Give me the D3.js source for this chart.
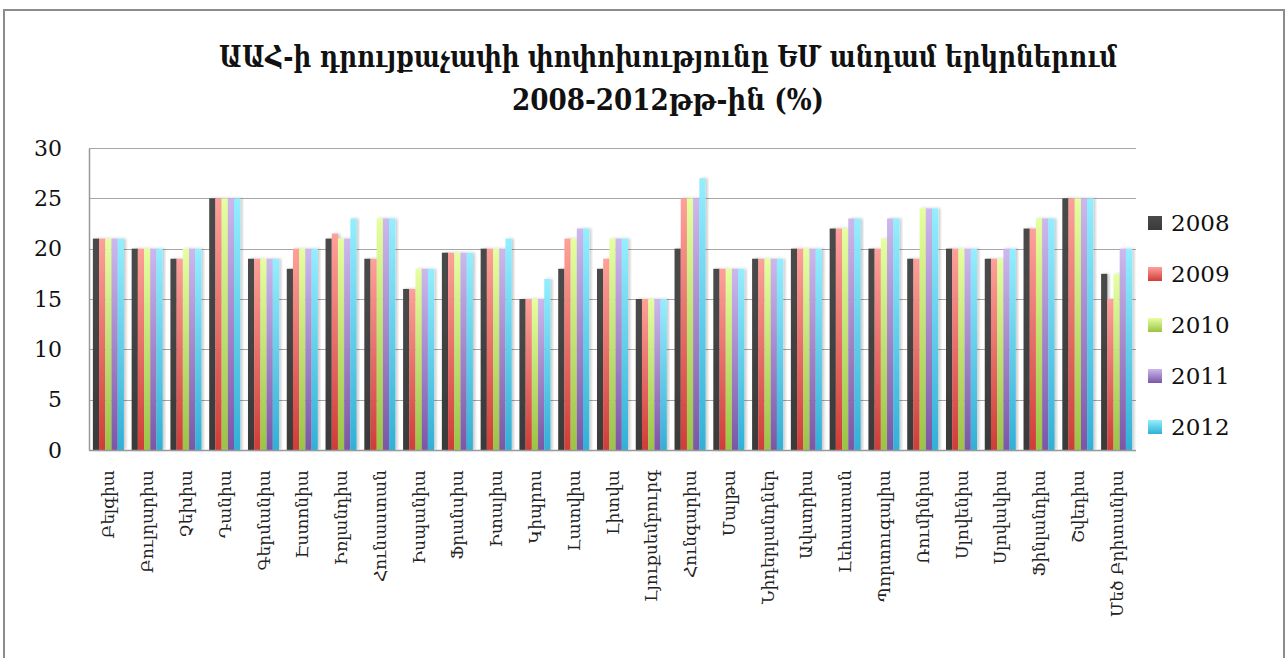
<!DOCTYPE html>
<html>
<head>
<meta charset="utf-8">
<script src="https://cdn.jsdelivr.net/npm/d3@7"></script>
<style>
  html, body { margin: 0; padding: 0; background: #fff; }
  svg { display: block; }
</style>
</head>
<body>
<svg id="chart" width="1285" height="658"></svg>
<script>
// VAT standard rates in EU member states, 2008-2012 (%)
const countries = [
  "Բելգիա", "Բուլղարիա", "Չեխիա", "Դանիա", "Գերմանիա", "Էստոնիա", "Իռլանդիա",
  "Հունաստան", "Իսպանիա", "Ֆրանսիա", "Իտալիա", "Կիպրոս", "Լատվիա", "Լիտվա",
  "Լյուքսեմբուրգ", "Հունգարիա", "Մալթա", "Նիդերլանդներ", "Ավստրիա", "Լեհաստան",
  "Պորտուգալիա", "Ռումինիա", "Սլովենիա", "Սլովակիա", "Ֆինլանդիա", "Շվեդիա", "Մեծ Բրիտանիա"
];
const years = ["2008", "2009", "2010", "2011", "2012"];

const rates2008 = [21, 20, 19, 25, 19, 18, 21,   19, 16, 19.6, 20, 15, 18, 18, 15, 20, 18, 19, 20, 22, 20, 19, 20, 19, 22, 25, 17.5];
const rates2009 = [21, 20, 19, 25, 19, 20, 21.5, 19, 16, 19.6, 20, 15, 21, 19, 15, 25, 18, 19, 20, 22, 20, 19, 20, 19, 22, 25, 15];
const rates2010 = [21, 20, 20, 25, 19, 20, 21,   23, 18, 19.6, 20, 15, 21, 21, 15, 25, 18, 19, 20, 22, 21, 24, 20, 19, 23, 25, 17.5];
const rates2011 = [21, 20, 20, 25, 19, 20, 21,   23, 18, 19.6, 20, 15, 22, 21, 15, 25, 18, 19, 20, 23, 23, 24, 20, 20, 23, 25, 20];
const rates2012 = [21, 20, 20, 25, 19, 20, 23,   23, 18, 19.6, 21, 17, 22, 21, 15, 27, 18, 19, 20, 23, 23, 24, 20, 20, 23, 25, 20];

const yTicks = [0, 5, 10, 15, 20, 25, 30];
const titleLines = ["ԱԱՀ-ի դրույքաչափի փոփոխությունը ԵՄ անդամ երկրներում", "2008-2012թթ-ին (%)"];

const seriesValues = [rates2008, rates2009, rates2010, rates2011, rates2012];
const seriesColors = [
  ["#4a4a4a", "#3a3a3a"],
  ["#ffa09a", "#d03c38"],
  ["#e6ffa0", "#9bc346"],
  ["#ccb8ee", "#7b56a6"],
  ["#94eeff", "#31b0d6"]
];

const svg = d3.select("#chart");
const serif = "'DejaVu Serif', serif";

// gradients and shadow
const defs = svg.append("defs");
seriesColors.forEach((c, i) => {
  const g = defs.append("linearGradient")
    .attr("id", "grad" + i)
    .attr("x1", 0).attr("y1", 0).attr("x2", 0).attr("y2", 1);
  g.append("stop").attr("offset", "0%").attr("stop-color", c[0]);
  g.append("stop").attr("offset", "100%").attr("stop-color", c[1]);
});
const shadow = defs.append("filter").attr("id", "shadow")
  .attr("x", "-50%").attr("y", "-5%").attr("width", "200%").attr("height", "110%");
shadow.append("feDropShadow")
  .attr("dx", 2).attr("dy", 0).attr("stdDeviation", 1.6)
  .attr("flood-color", "#000").attr("flood-opacity", 0.22);

// outer frame
svg.append("rect")
  .attr("x", 4).attr("y", 10).attr("width", 1280).attr("height", 700)
  .attr("fill", "#fff").attr("stroke", "#8c8c8c").attr("stroke-width", 2);

// title
svg.append("g").selectAll("text").data(titleLines).join("text")
  .attr("x", 668)
  .attr("y", (d, i) => 67 + i * 43)
  .attr("text-anchor", "middle")
  .attr("font-family", serif)
  .attr("font-size", 30)
  .attr("font-weight", "bold")
  .attr("font-stretch", "condensed")
  .attr("fill", "#111")
  .attr("textLength", (d, i) => i === 0 ? 898 : 312)
  .attr("lengthAdjust", "spacingAndGlyphs")
  .text(d => d);

const plotLeft = 89, plotRight = 1136, plotTop = 148, plotBottom = 450;

const x = d3.scaleBand().domain(countries).range([plotLeft, plotRight])
  .paddingInner(0.2).paddingOuter(0.1);
const xs = d3.scaleBand().domain(years).range([0, x.bandwidth()]);
const y = d3.scaleLinear().domain([0, 30]).range([plotBottom, plotTop]);

// gridlines
svg.append("g").selectAll("line").data(yTicks.filter(t => t > 0)).join("line")
  .attr("x1", plotLeft).attr("x2", plotRight)
  .attr("y1", d => Math.round(y(d)) + 0.5).attr("y2", d => Math.round(y(d)) + 0.5)
  .attr("stroke", "#a6a6a6").attr("stroke-width", 1.2);

// bars
const groups = svg.append("g").selectAll("g").data(countries).join("g")
  .attr("transform", d => `translate(${x(d)},0)`);
groups.selectAll("rect")
  .data((d, ci) => years.map((yr, si) => ({ yr, si, v: seriesValues[si][ci] })))
  .join("rect")
  .attr("x", d => xs(d.yr))
  .attr("width", xs.bandwidth())
  .attr("y", d => y(d.v))
  .attr("height", d => y(0) - y(d.v))
  .attr("fill", d => `url(#grad${d.si})`)
  .attr("filter", "url(#shadow)");

// y axis
const yAxis = svg.append("g")
  .attr("transform", `translate(${plotLeft},0)`)
  .call(d3.axisLeft(y).tickValues(yTicks).tickSize(0).tickPadding(27));
yAxis.select(".domain").attr("stroke", "#999").attr("stroke-width", 1.5);
yAxis.selectAll("text")
  .attr("font-family", serif).attr("font-size", 22).attr("fill", "#111");

// x axis baseline
svg.append("line")
  .attr("x1", plotLeft).attr("x2", plotRight)
  .attr("y1", plotBottom + 0.5).attr("y2", plotBottom + 0.5)
  .attr("stroke", "#999").attr("stroke-width", 1.5);

// category labels
svg.append("g").selectAll("text").data(countries).join("text")
  .attr("transform", d => `translate(${x(d) + x.bandwidth() / 2},470) rotate(-90)`)
  .attr("text-anchor", "end")
  .attr("dominant-baseline", "central")
  .attr("font-family", serif)
  .attr("font-size", 17)
  .attr("fill", "#222")
  .text(d => d);

// legend
const legend = svg.append("g").selectAll("g").data(years).join("g")
  .attr("transform", (d, i) => `translate(1148,${223 + i * 51})`);
legend.append("rect")
  .attr("x", 0).attr("y", -7).attr("width", 14).attr("height", 14)
  .attr("fill", (d, i) => `url(#grad${i})`);
legend.append("text")
  .attr("x", 23).attr("y", 0)
  .attr("dominant-baseline", "central")
  .attr("font-family", serif).attr("font-size", 23).attr("fill", "#111")
  .text(d => d);
</script>
</body>
</html>
